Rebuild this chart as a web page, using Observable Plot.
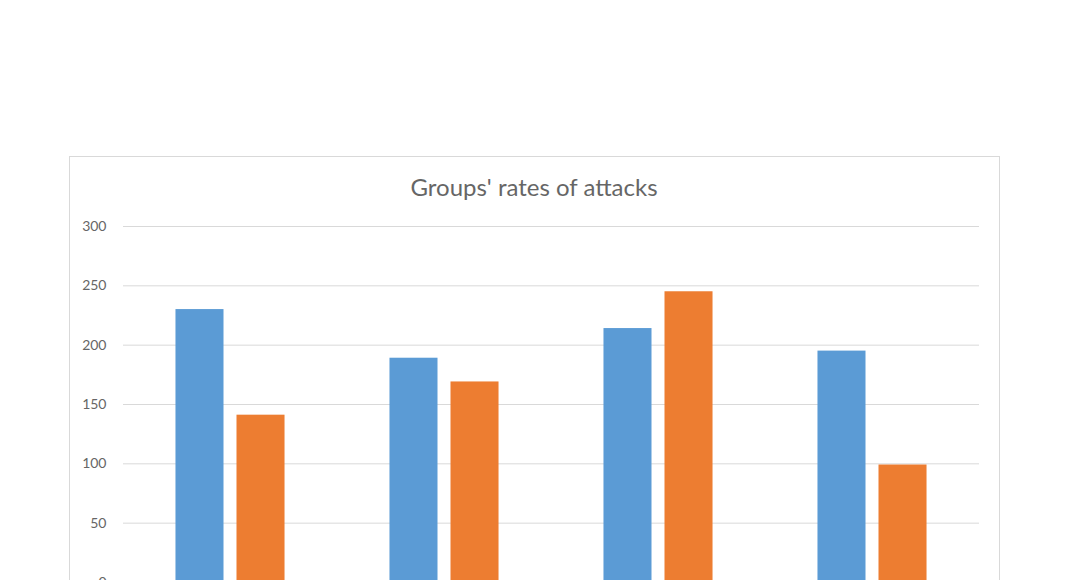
<!DOCTYPE html>
<html>
<head>
<meta charset="utf-8">
<script src="https://cdn.jsdelivr.net/npm/d3@7"></script>
<script src="https://cdn.jsdelivr.net/npm/@observablehq/plot@0.6"></script>
<style>
  html, body { margin: 0; padding: 0; background: #fff; width: 1068px; height: 580px; overflow: hidden; }
  #frame { position: absolute; left: 69px; top: 156px; width: 929px; height: 600px; border: 1px solid #d9d9d9; box-sizing: content-box; }
  #title { position: absolute; left: 0; width: 1068px; top: 172px; text-align: center; font-family: Lato, "Open Sans", sans-serif; font-size: 24px; color: #666666; }
  #chart { position: absolute; left: 0; top: 0; }
</style>
</head>
<body>
<div id="frame"></div>
<div id="title">Groups' rates of attacks</div>
<div id="chart"></div>
<script>
const groups = ["Group 1", "Group 2", "Group 3", "Group 4"];
const seriesNames = ["Series 1", "Series 2"];
const series1 = [230, 189, 214, 195];
const series2 = [141, 169, 245, 99];
const yTicks = [0, 50, 100, 150, 200, 250, 300];
const colors = ["#5b9bd5", "#ed7d31"];

const data = [];
groups.forEach((g, i) => {
  data.push({group: g, series: seriesNames[0], value: series1[i]});
  data.push({group: g, series: seriesNames[1], value: series2[i]});
});

const chart = Plot.plot({
  width: 1068,
  height: 600,
  marginTop: 226,
  marginBottom: 18,
  marginLeft: 123,
  marginRight: 89,
  style: {background: "transparent", fontFamily: "Lato, 'Open Sans', sans-serif"},
  fx: {domain: groups, padding: 0, axis: null, round: false},
  x: {domain: seriesNames, paddingInner: 0.213, paddingOuter: 0.86, axis: null, round: false},
  y: {domain: [0, 300], axis: null},
  color: {domain: seriesNames, range: colors},
  marks: [
    Plot.ruleY(yTicks, {stroke: "#d9d9d9", strokeWidth: 1, strokeOpacity: 1}),
    Plot.barY(data, {fx: "group", x: "series", y: "value", fill: "series"}),
    Plot.axisY({ticks: yTicks, tickSize: 0, tickPadding: 17, fontSize: 14, color: "#666666", label: null, facetAnchor: "left"})
  ]
});
document.getElementById("chart").appendChild(chart);
</script>
</body>
</html>
